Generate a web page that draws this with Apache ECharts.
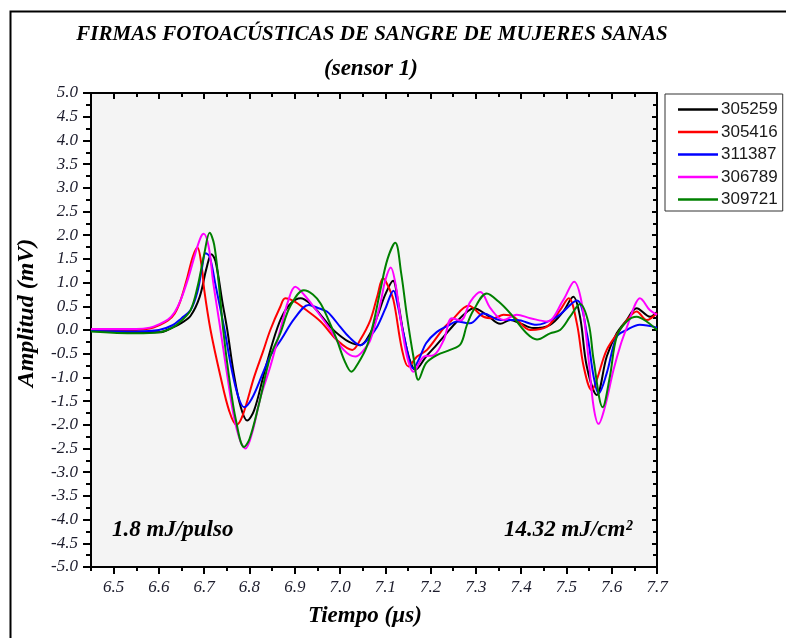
<!DOCTYPE html>
<html><head><meta charset="utf-8">
<script src="https://cdn.jsdelivr.net/npm/echarts@6/dist/echarts.min.js"></script>
<style>html,body{margin:0;padding:0;background:#fff}#c{width:786px;height:638px}</style>
</head><body><div id="c"></div><script>
// ---- data ----
const seriesNames = ['305259', '305416', '311387', '306789', '309721'];
const seriesColors = ['#000000', '#ff0000', '#0000ff', '#ff00ff', '#008000'];

const t305259 = [6.45,6.55,6.6,6.63,6.65,6.67,6.69,6.705,6.716,6.725,6.74,6.751,6.765,6.78,6.795,6.81,6.83,6.85,6.87,6.89,6.913,6.935,6.957,6.98,7.0,7.02,7.045,7.065,7.082,7.1,7.117,7.128,7.14,7.153,7.166,7.19,7.21,7.229,7.258,7.28,7.295,7.324,7.354,7.376,7.398,7.427,7.464,7.493,7.515,7.53,7.545,7.567,7.589,7.611,7.633,7.655,7.685,7.7];
const v305259 = [0.0,-0.05,-0.05,0.05,0.15,0.3,0.7,1.3,1.6,1.45,0.6,0.0,-0.9,-1.6,-1.91,-1.7,-1.0,-0.3,0.25,0.55,0.67,0.55,0.32,0.05,-0.12,-0.25,-0.32,-0.1,0.28,0.75,1.04,0.6,-0.07,-0.6,-0.84,-0.56,-0.35,-0.14,0.18,0.38,0.46,0.32,0.13,0.21,0.14,0.04,0.11,0.39,0.7,0.28,-0.77,-1.37,-0.56,-0.07,0.21,0.46,0.28,0.38];

const t305416 = [6.45,6.55,6.58,6.6,6.62,6.635,6.648,6.663,6.675,6.685,6.695,6.7,6.714,6.736,6.755,6.771,6.785,6.81,6.83,6.846,6.868,6.879,6.9,6.92,6.957,6.993,7.027,7.045,7.067,7.082,7.095,7.105,7.118,7.137,7.151,7.17,7.192,7.229,7.247,7.284,7.317,7.339,7.361,7.383,7.42,7.457,7.486,7.505,7.523,7.538,7.556,7.567,7.589,7.618,7.633,7.655,7.677,7.7];
const v305416 = [0.0,0.0,0.03,0.1,0.2,0.35,0.63,1.12,1.55,1.74,1.3,0.85,0.0,-0.98,-1.7,-2.0,-1.8,-1.0,-0.45,0.0,0.49,0.67,0.6,0.46,0.18,-0.21,-0.42,-0.2,0.21,0.7,1.09,0.95,0.63,-0.42,-0.77,-0.56,-0.42,0.04,0.21,0.51,0.28,0.25,0.32,0.28,0.0,0.07,0.42,0.67,0.14,-0.77,-1.27,-1.05,-0.42,0.0,0.2,0.39,0.21,0.36];

const t311387 = [6.45,6.55,6.6,6.63,6.65,6.67,6.685,6.695,6.703,6.712,6.725,6.745,6.76,6.775,6.788,6.805,6.83,6.846,6.87,6.9,6.931,6.95,6.971,6.985,7.0,7.02,7.045,7.065,7.082,7.1,7.118,7.128,7.14,7.162,7.175,7.19,7.214,7.24,7.258,7.287,7.317,7.354,7.39,7.434,7.479,7.523,7.545,7.56,7.571,7.589,7.611,7.633,7.662,7.7];
const v311387 = [-0.02,-0.03,0.0,0.1,0.25,0.42,0.8,1.3,1.62,1.55,0.95,0.0,-0.8,-1.4,-1.63,-1.45,-0.9,-0.55,-0.2,0.25,0.53,0.47,0.39,0.25,0.07,-0.15,-0.32,-0.15,0.07,0.45,0.83,0.5,-0.07,-0.81,-0.6,-0.28,-0.04,0.1,0.18,0.14,0.35,0.21,0.21,0.11,0.28,0.62,-0.07,-0.98,-1.34,-0.91,-0.14,0.0,0.11,0.05];

const t306789 = [6.45,6.55,6.58,6.6,6.62,6.635,6.648,6.665,6.68,6.692,6.699,6.71,6.72,6.736,6.75,6.765,6.78,6.791,6.805,6.825,6.846,6.868,6.885,6.901,6.92,6.942,6.979,7.008,7.034,7.05,7.067,7.089,7.1,7.112,7.122,7.133,7.148,7.162,7.185,7.207,7.229,7.247,7.266,7.288,7.31,7.332,7.361,7.39,7.42,7.457,7.493,7.517,7.534,7.549,7.56,7.571,7.585,7.604,7.62,7.635,7.65,7.662,7.684,7.7];
const v306789 = [0.02,0.02,0.05,0.12,0.22,0.38,0.63,1.1,1.6,1.95,2.03,1.75,1.0,0.0,-0.9,-1.8,-2.35,-2.5,-2.2,-1.4,-0.77,0.0,0.6,0.91,0.75,0.49,0.0,-0.42,-0.56,-0.45,-0.21,0.56,1.05,1.32,1.0,0.28,-0.56,-0.88,-0.56,-0.53,-0.21,0.25,0.2,0.6,0.8,0.46,0.21,0.32,0.25,0.18,0.63,1.02,0.56,-0.63,-1.62,-1.98,-1.62,-0.84,-0.3,0.1,0.5,0.67,0.42,0.32];

const t309721 = [6.45,6.55,6.6,6.63,6.65,6.67,6.685,6.7,6.712,6.722,6.732,6.742,6.755,6.77,6.788,6.8,6.82,6.846,6.868,6.89,6.92,6.94,6.957,6.975,6.993,7.01,7.025,7.04,7.059,7.075,7.089,7.105,7.122,7.135,7.148,7.162,7.173,7.19,7.214,7.243,7.266,7.28,7.295,7.324,7.35,7.376,7.412,7.435,7.464,7.486,7.508,7.53,7.549,7.56,7.58,7.596,7.611,7.633,7.655,7.677,7.7];
const v309721 = [-0.03,-0.07,-0.05,0.05,0.2,0.42,0.9,1.6,2.05,1.8,1.0,0.0,-1.0,-1.9,-2.47,-2.3,-1.6,-0.56,-0.07,0.5,0.84,0.75,0.56,0.2,-0.21,-0.65,-0.88,-0.7,-0.35,0.2,0.84,1.5,1.84,1.2,0.28,-0.56,-1.05,-0.7,-0.53,-0.42,-0.3,0.1,0.42,0.77,0.6,0.35,-0.07,-0.2,-0.07,0.0,0.28,0.55,0.14,-0.63,-1.63,-0.98,-0.14,0.18,0.28,0.18,0.0];

const xMajorTicks = [6.5,6.6,6.7,6.8,6.9,7.0,7.1,7.2,7.3,7.4,7.5,7.6,7.7];
const xMinorTicks = [6.45,6.55,6.65,6.75,6.85,6.95,7.05,7.15,7.25,7.35,7.45,7.55,7.65];

const times = [t305259, t305416, t311387, t306789, t309721];
const values = [v305259, v305416, v311387, v306789, v309721];

// ---- chart ----
const chart = echarts.init(document.getElementById('c'), null, {renderer: 'canvas'});
const serif = '"Liberation Serif", "Times New Roman", serif';
const labelStyle = {fontFamily: serif, fontStyle: 'italic', fontSize: 17, color: '#1c1c2c'};
const xRange = {min: 6.45, max: 7.7};

const series = seriesNames.map((name, i) => ({
  name: name,
  type: 'line',
  xAxisIndex: 0, yAxisIndex: 0,
  data: times[i].map((t, k) => [t, values[i][k]]),
  smooth: 0.35,
  symbol: 'none',
  lineStyle: {width: 2, color: seriesColors[i]},
  itemStyle: {color: seriesColors[i]},
  z: 2 + i
}));

const option = {
  animation: false,
  backgroundColor: '#ffffff',
  title: [
    {text: 'FIRMAS FOTOACÚSTICAS DE SANGRE DE MUJERES SANAS', left: 367, top: 19, textAlign: 'center',
     textStyle: {fontFamily: serif, fontStyle: 'italic', fontWeight: 'bold', fontSize: 21, color: '#000'}},
    {text: '(sensor 1)', left: 366, top: 53, textAlign: 'center',
     textStyle: {fontFamily: serif, fontStyle: 'italic', fontWeight: 'bold', fontSize: 23, color: '#000'}}
  ],
  grid: {left: 91, top: 93, width: 566, height: 474, show: true, backgroundColor: '#f4f4f4',
         borderColor: '#000', borderWidth: 1.5, containLabel: false},
  legend: {
    orient: 'vertical', left: 665, top: 94,
    data: seriesNames.map(n => ({name: n, icon: 'rect'})),
    itemWidth: 40, itemHeight: 2.5, itemGap: 5.5,
    padding: [7, 5, 3, 13],
    backgroundColor: '#ffffff', borderColor: '#333', borderWidth: 1,
    textStyle: {fontFamily: '"Liberation Sans", Arial, sans-serif', fontSize: 17, lineHeight: 16, color: '#1a1a1a', padding: [0,0,0,-2]}
  },
  xAxis: [
    {type: 'value', position: 'bottom', ...xRange,
     name: 'Tiempo (µs)', nameLocation: 'middle', nameGap: 38,
     nameTextStyle: {fontFamily: serif, fontStyle: 'italic', fontWeight: 'bold', fontSize: 23, color: '#000', padding: [0, 18, 0, 0]},
     axisLine: {show: true, onZero: false, lineStyle: {color: '#000', width: 2}},
     axisTick: {show: true, length: 7, inside: false, customValues: xMajorTicks, lineStyle: {color: '#000', width: 2}},
     axisLabel: {show: true, margin: 12, customValues: xMajorTicks, formatter: v => v.toFixed(1), ...labelStyle},
     splitLine: {show: false}},
    {type: 'value', position: 'bottom', ...xRange,
     axisLine: {show: false, onZero: false},
     axisTick: {show: true, length: 4, inside: false, customValues: xMinorTicks, lineStyle: {color: '#000', width: 2}},
     axisLabel: {show: false}, splitLine: {show: false}},
    {type: 'value', position: 'top', ...xRange,
     axisLine: {show: true, onZero: false, lineStyle: {color: '#000', width: 2}},
     axisTick: {show: true, length: 6, inside: true, customValues: xMajorTicks, lineStyle: {color: '#000', width: 2}},
     axisLabel: {show: false}, splitLine: {show: false}},
    {type: 'value', position: 'top', ...xRange,
     axisLine: {show: false, onZero: false},
     axisTick: {show: true, length: 4, inside: true, customValues: xMinorTicks, lineStyle: {color: '#000', width: 2}},
     axisLabel: {show: false}, splitLine: {show: false}}
  ],
  yAxis: [
    {type: 'value', position: 'left', min: -5, max: 5, interval: 0.5,
     axisLine: {show: true, onZero: false, lineStyle: {color: '#000', width: 2}},
     axisTick: {show: true, length: 8, inside: false, lineStyle: {color: '#000', width: 2}},
     minorTick: {show: true, splitNumber: 2, length: 5, lineStyle: {color: '#000', width: 2}},
     axisLabel: {show: true, margin: 13, formatter: v => v.toFixed(1), ...labelStyle},
     splitLine: {show: false}, minorSplitLine: {show: false}},
    {type: 'value', position: 'right', min: -5, max: 5, interval: 0.5,
     axisLine: {show: true, onZero: false, lineStyle: {color: '#000', width: 2}},
     axisTick: {show: true, length: 5, inside: true, lineStyle: {color: '#000', width: 2}},
     minorTick: {show: true, splitNumber: 2, length: 4, lineStyle: {color: '#000', width: 2}},
     axisLabel: {show: false}, splitLine: {show: false}, minorSplitLine: {show: false}}
  ],
  graphic: [
    {type: 'rect', left: 8, top: 9, shape: {x: 0, y: 0, width: 800, height: 660},
     style: {fill: null, stroke: '#000', lineWidth: 2}, silent: true, z: -10},
    {type: 'text', x: 27, y: 313, rotation: Math.PI / 2,
     style: {text: 'Amplitud (mV)', font: 'italic bold 24px "Liberation Serif", serif', fill: '#000',
             align: 'center', verticalAlign: 'middle'}, z: 50},
    {type: 'text', left: 112, top: 519,
     style: {text: '1.8 mJ/pulso', font: 'italic bold 23px "Liberation Serif", serif', fill: '#000'}, z: 50},
    {type: 'text', left: 504, top: 519,
     style: {text: '14.32 mJ/cm²', font: 'italic bold 23px "Liberation Serif", serif', fill: '#000'}, z: 50}
  ],
  series: series
};
chart.setOption(option);
</script></body></html>
